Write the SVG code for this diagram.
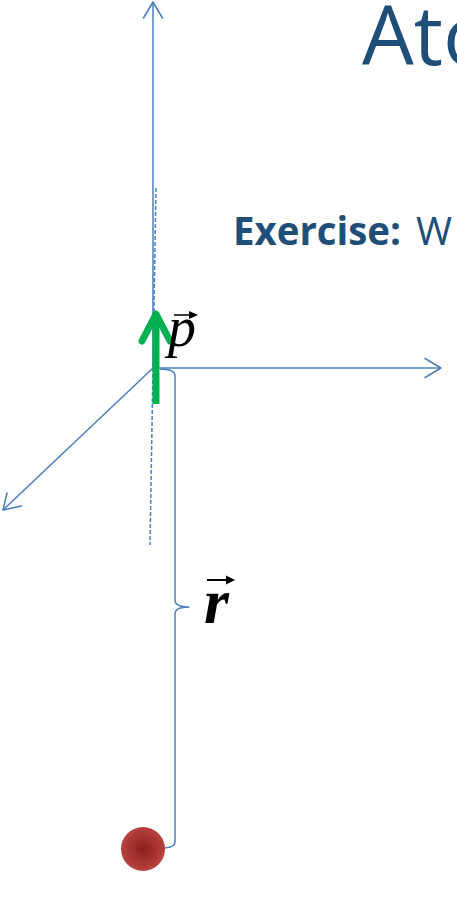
<svg xmlns="http://www.w3.org/2000/svg" width="457" height="924" viewBox="0 0 457 924">
<style>
.ax{fill:none;stroke:#4a7ebb;stroke-width:1.5;stroke-linejoin:round}
.hd{fill:none;stroke:#4a7ebb;stroke-width:1.5;stroke-linecap:round;stroke-linejoin:round}
.ttl{font-family:"Open Sans","Liberation Sans",sans-serif;fill:#1F4E79}
.math{font-family:"Liberation Serif","DejaVu Serif",serif;font-style:italic;fill:#000}
</style>
<defs>
<radialGradient id="ball" cx="0.5" cy="0.5" r="0.5">
<stop offset="0" stop-color="#8a1e1e"/>
<stop offset="1" stop-color="#b8423e"/>
</radialGradient>
</defs>
<g id="title"><text class="ttl" x="362" y="65" font-size="82">Ato</text></g>
<g id="exercise">
<text class="ttl" x="233" y="245" font-size="39" font-weight="bold" textLength="168" lengthAdjust="spacingAndGlyphs">Exercise:</text>
<text class="ttl" x="416" y="245" font-size="39">W</text>
</g>
<g id="connectors">
<line class="ax" x1="153" y1="368" x2="153" y2="2"/>
<polyline class="hd" points="143.5,18 153,2 162.5,18"/>
<line class="ax" x1="153" y1="368" x2="441" y2="368"/>
<polyline class="hd" points="425,358.5 441,368 425,377.5"/>
<line class="ax" x1="153" y1="368" x2="3" y2="510"/>
<polyline class="hd" points="7,493 3,510 21.5,506"/>
<line x1="156" y1="188" x2="150" y2="545" stroke="#4a7ebb" stroke-width="1.5" stroke-dasharray="4,2"/>
<path class="ax" d="M160,369 Q175,369 175,376 L175,600 Q175,607 189,607 Q175,607 175,614 L175,842 Q175,848 161,848"/>
</g>
<g id="p-vector">
<line x1="156" y1="404" x2="156" y2="318" stroke="#00B050" stroke-width="7"/>
<polyline points="142,341 156,314 170,341" fill="none" stroke="#00B050" stroke-width="7" stroke-linecap="round" stroke-linejoin="round"/>
<text class="math" x="168" y="346" font-size="56">p</text>
<line x1="174" y1="315" x2="193" y2="315" stroke="#000" stroke-width="1.5"/>
<polygon points="198,315 189,311 189,319" fill="#000"/>
</g>
<g id="r-vector">
<text class="math" x="204" y="623" font-size="64" font-weight="bold">r</text>
<line x1="207" y1="580" x2="229" y2="580" stroke="#000" stroke-width="2"/>
<polygon points="235,580 226,575.5 226,584.5" fill="#000"/>
</g>
<g id="particle"><circle cx="143" cy="849" r="22" fill="url(#ball)"/></g>
</svg>
